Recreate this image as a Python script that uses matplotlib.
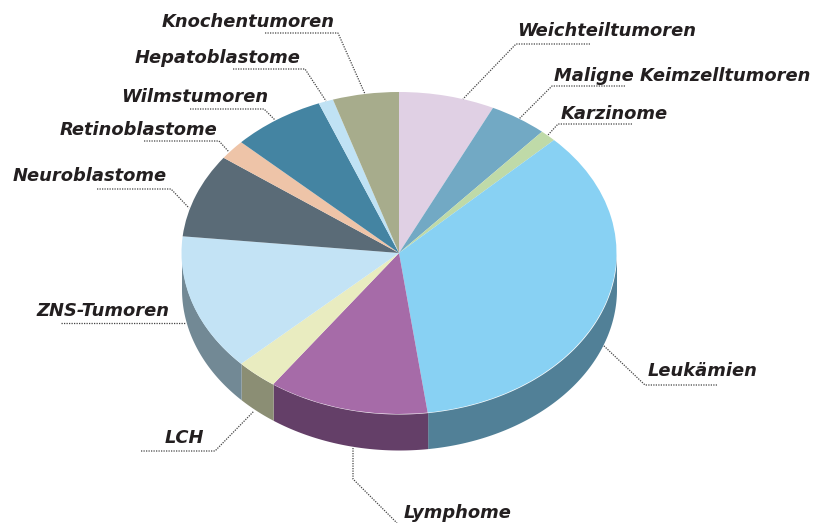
import matplotlib
matplotlib.use('Agg')
import matplotlib.pyplot as plt
import numpy as np

W, H = 814, 523

# clockwise from the top of the pie
labels = ['Weichteiltumoren', 'Maligne Keimzelltumoren', 'Karzinome', 'Leukämien',
          'Lymphome', 'LCH', 'ZNS-Tumoren', 'Neuroblastome', 'Retinoblastome',
          'Wilmstumoren', 'Hepatoblastome', 'Knochentumoren']
values = [7.1, 4.3, 1.2, 35.2, 11.9, 3.1, 13.7, 8.4, 2.0, 6.9, 1.1, 4.9]
top_colors = ['#E0D0E4', '#72A9C4', '#BFDAA8', '#88D1F3', '#A66BA8', '#E9ECC0',
              '#C3E3F5', '#5A6B77', '#EEC4A8', '#4484A2', '#C0E2F4', '#A7AC8C']
side_colors = ['#9C919F', '#507689', '#859875', '#518097', '#643F68', '#8B8E74',
               '#728995', '#3F4A53', '#A68975', '#2F5C71', '#869EAA', '#747862']

# label left edge and baseline, then the dotted leader, all in image pixels
label_pos = [(517, 36), (554, 81), (561, 119), (648, 376), (404, 518), (165, 443),
             (36, 316), (13, 181), (60, 135), (121, 102), (135, 63), (162, 27)]
leaders = [[(590, 44), (516, 44), (463, 99)],
           [(625, 86), (552, 86), (519, 119)],
           [(632, 124), (558, 124), (548, 135)],
           [(717, 385), (645, 385), (603, 345)],
           [(353, 448), (353, 479), (397, 523)],
           [(141, 451), (215, 451), (254, 411)],
           [(61, 323), (185, 323)],
           [(97, 189), (171, 189), (189, 208)],
           [(144, 141), (219, 141), (229, 152)],
           [(190, 109), (264, 109), (275, 120)],
           [(233, 69), (305, 69), (326, 101)],
           [(265, 33), (338, 33), (365, 94)]]

cx, cy = 399, 253   # pie centre
rx, ry = 217.5, 161 # pie radii
depth = 36 / ry     # wall height in pie units

fig = plt.figure(figsize=(W / 100, H / 100), dpi=100)
ax = fig.add_axes([0, 0, 1, 1])

ax.pie(values, colors=top_colors, startangle=90, counterclock=False, radius=1,
       wedgeprops={'linewidth': 0}, frame=False)
ax.set_aspect('auto')
ax.set_xlim(-cx / rx, (W - cx) / rx)
ax.set_ylim((cy - H) / ry, cy / ry)
ax.axis('off')

# outer wall, only the front half of the pie can be seen
edges = 90 - np.cumsum([0] + values) / np.sum(values) * 360
for i in range(len(values)):
    a1, a2 = edges[i + 1], edges[i]
    for shift in (0, -360):
        lo, hi = max(a1 + shift, -180), min(a2 + shift, 0)
        if lo >= hi:
            continue
        t = np.radians(np.linspace(lo, hi, 100))
        ax.fill_between(np.cos(t), np.sin(t), np.sin(t) - depth,
                        color=side_colors[i], linewidth=0, zorder=0)

# px helper for the annotation layer
def to_ax(x, y):
    return (x - cx) / rx, (cy - y) / ry

for i in range(len(labels)):
    pts = [to_ax(*p) for p in leaders[i]]
    ax.plot([p[0] for p in pts], [p[1] for p in pts], color='#444444', lw=0.9,
            ls=(0, (1, 1)), clip_on=False, zorder=5)
    ax.text(label_pos[i][0] / W, 1 - label_pos[i][1] / H, labels[i], transform=ax.transAxes,
            family='DejaVu Sans', weight='bold', style='italic', fontsize=12.9,
            color='#231F20', ha='left', va='baseline')

fig.savefig('out.png', dpi=100)
